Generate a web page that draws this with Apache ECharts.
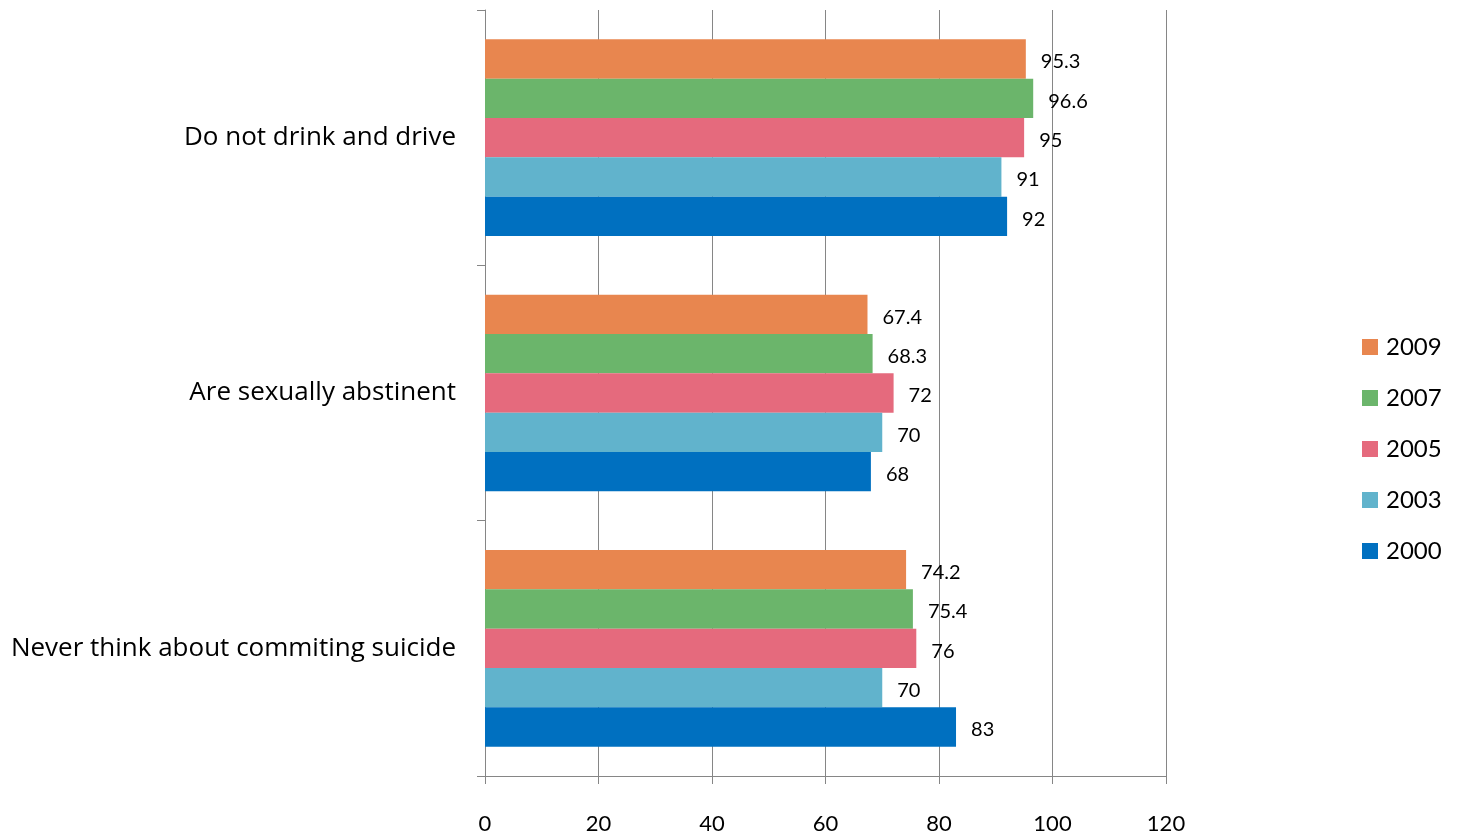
<!DOCTYPE html>
<html>
<head>
<meta charset="utf-8">
<script src="https://cdn.jsdelivr.net/npm/echarts@6/dist/echarts.min.js"></script>
<style>
html,body{margin:0;padding:0;background:#fff;}
#c{width:1458px;height:838px;}
</style>
</head>
<body>
<div id="c"></div>
<script>
const categories = ["Do not drink and drive", "Are sexually abstinent", "Never think about commiting suicide"];
const seriesNames = ["2009", "2007", "2005", "2003", "2000"];
const v2009 = [95.3, 67.4, 74.2];
const v2007 = [96.6, 68.3, 75.4];
const v2005 = [95, 72, 76];
const v2003 = [91, 70, 70];
const v2000 = [92, 68, 83];
const xTicks = [0, 20, 40, 60, 80, 100, 120];

const values = [v2009, v2007, v2005, v2003, v2000];
const colors = ["#E8864F", "#6BB56B", "#E56A7D", "#61B3CC", "#0070C0"];
const FONT = "Lato";
const CATFONT = "Open Sans";

const chart = echarts.init(document.getElementById('c'));
chart.setOption({
  animation: false,
  textStyle: {fontFamily: FONT},
  grid: {left: 485, right: 292, top: 10, bottom: 62, containLabel: false},
  legend: {
    orient: 'vertical',
    left: 1357,
    top: 330,
    itemWidth: 16,
    itemHeight: 16,
    itemGap: 27,
    icon: 'rect',
    textStyle: {fontFamily: FONT, fontSize: 24, color: '#000', padding: [0, 0, 0, 3]},
    data: seriesNames
  },
  xAxis: {
    type: 'value',
    min: xTicks[0],
    max: xTicks[xTicks.length - 1],
    interval: 20,
    axisLine: {show: true, lineStyle: {color: '#868686', width: 1}},
    axisTick: {show: true, length: 8, lineStyle: {color: '#868686'}},
    splitLine: {show: true, lineStyle: {color: '#868686', width: 1}},
    axisLabel: {margin: 37, fontSize: 22, color: '#000', fontFamily: FONT}
  },
  yAxis: {
    type: 'category',
    inverse: true,
    data: categories,
    axisLine: {show: true, lineStyle: {color: '#868686', width: 1}},
    axisTick: {show: true, length: 8, lineStyle: {color: '#868686'}},
    axisLabel: {margin: 29, fontSize: 26, color: '#000', fontFamily: CATFONT}
  },
  series: seriesNames.map((n, i) => ({
    name: n,
    type: 'bar',
    data: values[i],
    barGap: '0%',
    barCategoryGap: '23%',
    itemStyle: {color: colors[i]},
    label: {
      show: true,
      position: 'right',
      distance: 15,
      offset: [0, 3],
      fontSize: 20,
      color: '#000',
      fontFamily: FONT
    }
  }))
});
</script>
</body>
</html>
